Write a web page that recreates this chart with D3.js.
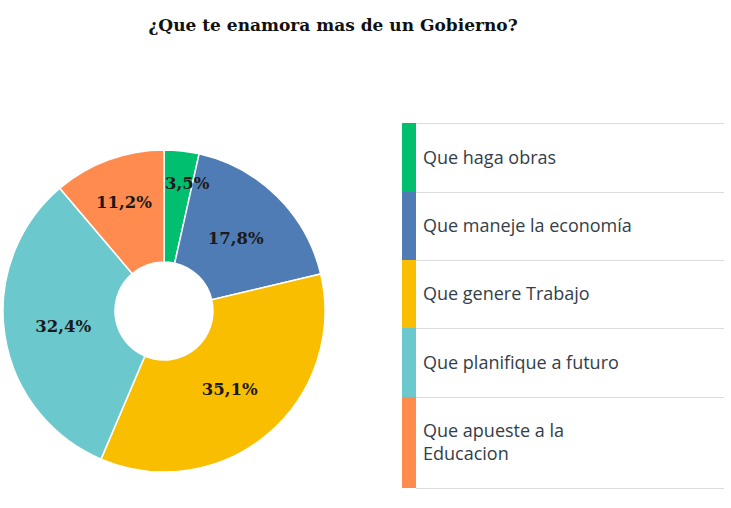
<!DOCTYPE html>
<html>
<head>
<meta charset="utf-8">
<script src="https://cdn.jsdelivr.net/npm/d3@7"></script>
<style>
  html, body { margin: 0; padding: 0; background: #fff; }
  svg { display: block; }
</style>
</head>
<body>
<div id="chart"></div>
<script>
// Survey donut: ¿Que te enamora mas de un Gobierno?

const title = '¿Que te enamora mas de un Gobierno?';
const categories = [
  'Que haga obras',
  'Que maneje la economía',
  'Que genere Trabajo',
  'Que planifique a futuro',
  'Que apueste a la Educacion'
];
const values = [3.5, 17.8, 35.1, 32.4, 11.2];
const percentLabels = ['3,5%', '17,8%', '35,1%', '32,4%', '11,2%'];
const colors = ['#00bf6f', '#507cb6', '#f9be00', '#6bc8cd', '#ff8b4f'];

const width = 731, height = 508;

const svg = d3.select('#chart')
  .append('svg')
  .attr('width', width)
  .attr('height', height);

// Title
svg.append('text')
  .attr('x', 333)
  .attr('y', 31)
  .attr('text-anchor', 'middle')
  .attr('font-family', 'DejaVu Serif, serif')
  .attr('font-weight', 'bold')
  .attr('font-size', '17px')
  .attr('fill', '#111')
  .text(title);

// Donut
const cx = 164, cy = 311;
const outerR = 161, innerR = 49;

const data = categories.map((name, i) => ({ name, value: values[i], label: percentLabels[i], color: colors[i] }));

const pie = d3.pie()
  .value(d => d.value)
  .sort(null);

const arc = d3.arc()
  .innerRadius(innerR)
  .outerRadius(outerR);

const g = svg.append('g')
  .attr('transform', `translate(${cx},${cy})`);

const arcs = pie(data);

g.selectAll('.slice')
  .data(arcs)
  .join('path')
  .attr('class', 'slice')
  .attr('d', arc)
  .attr('fill', d => d.data.color)
  .attr('stroke', '#fff')
  .attr('stroke-width', 1.5);

// Labels: smaller slices get pushed further out so they fit;
// a very thin slice gets its label started at the slice edge
function share(d) { return (d.endAngle - d.startAngle) / (2 * Math.PI); }
function labelRadius(d) {
  if (share(d) < 0.05) return 128;
  if (share(d) < 0.15) return 116;
  return 102;
}

g.selectAll('.pct')
  .data(arcs)
  .join('text')
  .attr('class', 'pct')
  .attr('transform', d => {
    const a = share(d) < 0.05 ? d.startAngle : (d.startAngle + d.endAngle) / 2;
    const r = labelRadius(d);
    return `translate(${Math.sin(a) * r + (share(d) < 0.05 ? 1 : 0)},${-Math.cos(a) * r})`;
  })
  .attr('text-anchor', d => share(d) < 0.05 ? 'start' : 'middle')
  .attr('dy', '0.35em')
  .attr('font-family', 'DejaVu Serif, serif')
  .attr('font-weight', 'bold')
  .attr('font-size', '16.5px')
  .attr('fill', '#1a1a1a')
  .text(d => d.data.label);

// Legend
const legendX = 402, barW = 14, lineEnd = 724;
const rowH = [69, 68, 68, 69, 91];
const legendTop = 123;

let acc = legendTop;
const rows = data.map((d, i) => {
  const r = { ...d, y0: acc, h: rowH[i] };
  acc += rowH[i];
  return r;
});

const legend = svg.append('g').attr('class', 'legend');

legend.selectAll('.sep')
  .data([legendTop, ...rows.map(r => r.y0 + r.h)])
  .join('line')
  .attr('class', 'sep')
  .attr('x1', legendX + barW)
  .attr('x2', lineEnd)
  .attr('y1', d => d + 0.5)
  .attr('y2', d => d + 0.5)
  .attr('stroke', '#dcdcdc')
  .attr('stroke-width', 1);

legend.selectAll('.swatch')
  .data(rows)
  .join('rect')
  .attr('class', 'swatch')
  .attr('x', legendX)
  .attr('y', d => d.y0)
  .attr('width', barW)
  .attr('height', d => d.h)
  .attr('fill', d => d.color);

// Wrap long names onto two lines
function wrapName(name) {
  if (name.length <= 24) return [name];
  const cut = name.lastIndexOf(' ', 17);
  return [name.slice(0, cut), name.slice(cut + 1)];
}

const lineH = 23;
legend.selectAll('.name')
  .data(rows)
  .join('text')
  .attr('class', 'name')
  .attr('x', legendX + barW + 7)
  .attr('font-family', 'Open Sans, sans-serif')
  .attr('font-size', '18px')
  .attr('fill', '#333e48')
  .each(function (d) {
    const lines = wrapName(d.name);
    const mid = d.y0 + d.h / 2;
    const first = mid - (lines.length - 1) * lineH / 2;
    d3.select(this).selectAll('tspan')
      .data(lines)
      .join('tspan')
      .attr('x', legendX + barW + 7)
      .attr('y', (l, k) => first + k * lineH)
      .attr('dy', '0.35em')
      .text(l => l);
  });
</script>
</body>
</html>
